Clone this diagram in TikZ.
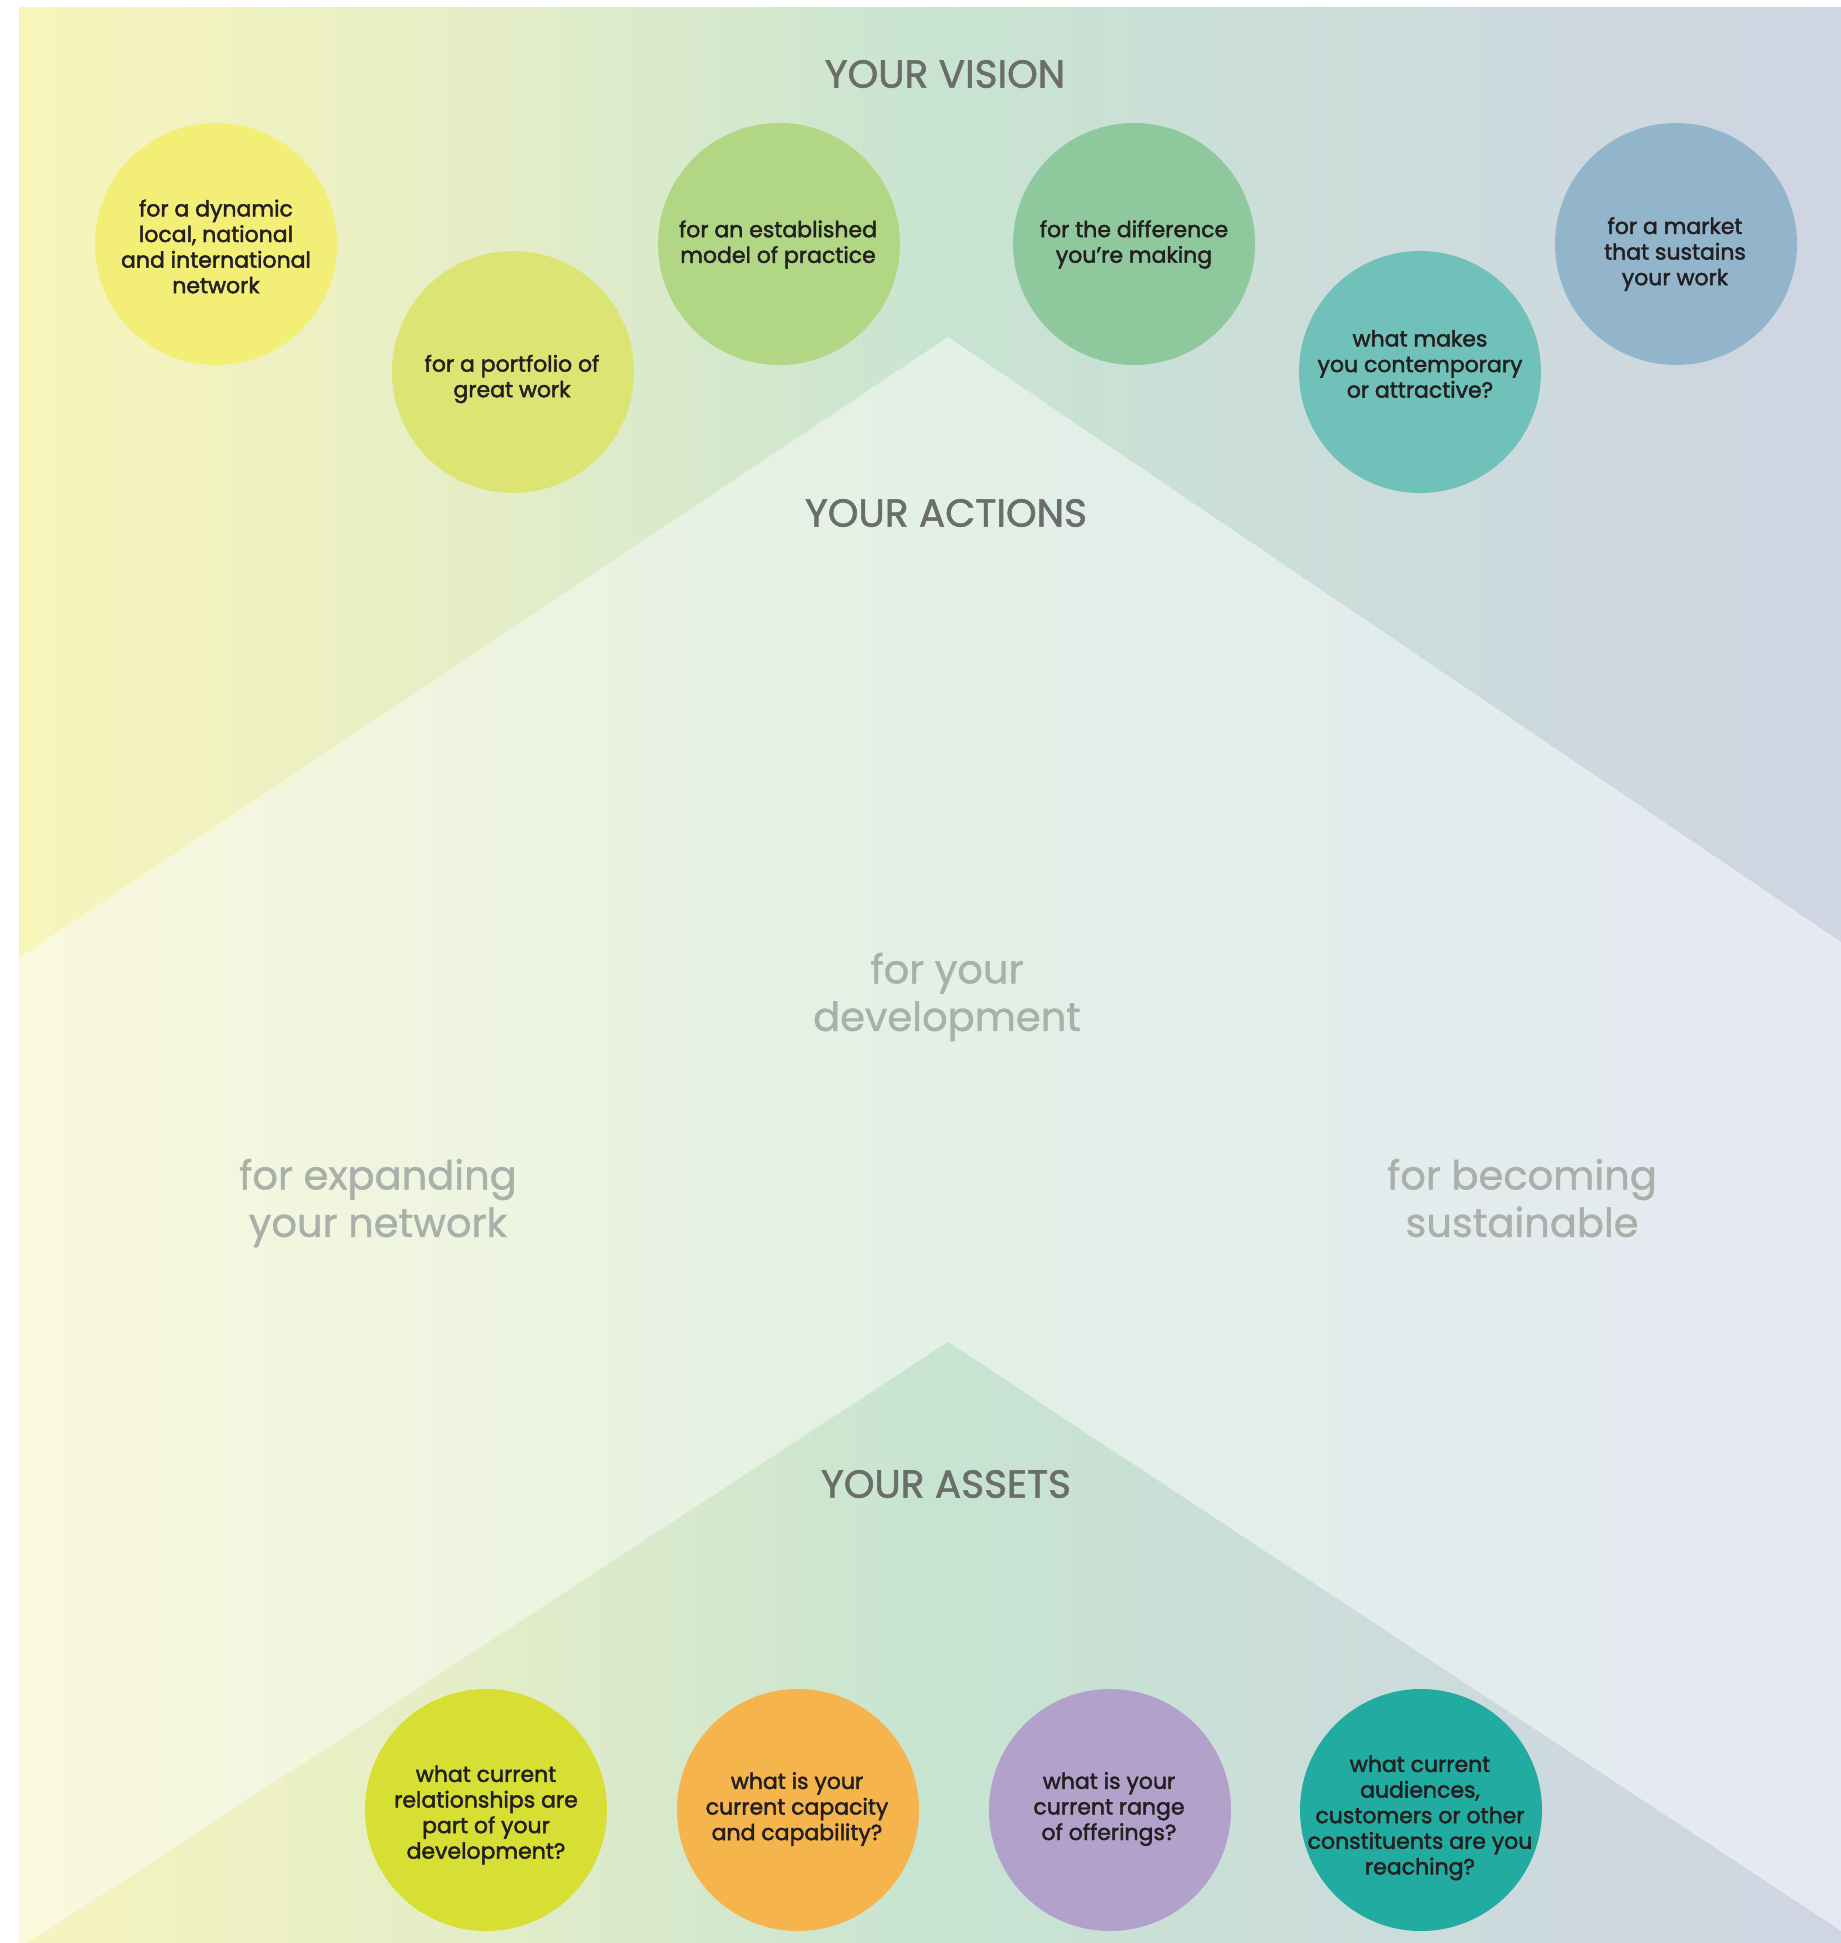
\documentclass[tikz,border=0pt]{standalone}
\usepackage{fontspec}
\newfontfamily\circfont[FakeBold=2]{Poppins}
\newfontfamily\headfont[FakeBold=1.5]{Poppins}
\newfontfamily\greyfont[FakeBold=1]{Poppins}

% band colours
\definecolor{visA}{HTML}{F8F5BA}
\definecolor{visB}{HTML}{E6EEC7}
\definecolor{visC}{HTML}{C8E4D1}
\definecolor{visD}{HTML}{CCDCDB}
\definecolor{visE}{HTML}{CFD5E2}
\definecolor{actA}{HTML}{FAF9DE}
\definecolor{actB}{HTML}{EEF4E0}
\definecolor{actC}{HTML}{E2F0E6}
\definecolor{actD}{HTML}{E3ECEC}
\definecolor{actE}{HTML}{E5E9F1}
\definecolor{astA}{HTML}{F6F4BE}
\definecolor{astB}{HTML}{E4EDC8}
\definecolor{astC}{HTML}{C7E4D1}
\definecolor{astD}{HTML}{CCDCDB}
\definecolor{astE}{HTML}{CFD5E2}

% bubble colours
\definecolor{bubA}{HTML}{F2EE76}
\definecolor{bubB}{HTML}{DCE473}
\definecolor{bubC}{HTML}{B1D785}
\definecolor{bubD}{HTML}{8EC89C}
\definecolor{bubE}{HTML}{6FC1BA}
\definecolor{bubF}{HTML}{92B5CC}
\definecolor{bubG}{HTML}{D7DF34}
\definecolor{bubH}{HTML}{F5B44C}
\definecolor{bubI}{HTML}{B1A1CB}
\definecolor{bubJ}{HTML}{22ABA0}

\definecolor{inkdark}{HTML}{231F20}
\definecolor{inkhead}{HTML}{6B6D6A}
\definecolor{inkgrey}{HTML}{A9AFA9}

\pgfdeclarehorizontalshading{visionband}{100bp}{color(0bp)=(visA); color(25bp)=(visA); color(37.5bp)=(visB); color(50bp)=(visC); color(62.5bp)=(visD); color(75bp)=(visE); color(100bp)=(visE)}
\pgfdeclarehorizontalshading{actionband}{100bp}{color(0bp)=(actA); color(25bp)=(actA); color(37.5bp)=(actB); color(50bp)=(actC); color(62.5bp)=(actD); color(75bp)=(actE); color(100bp)=(actE)}
\pgfdeclarehorizontalshading{assetband}{100bp}{color(0bp)=(astA); color(25bp)=(astA); color(37.5bp)=(astB); color(50bp)=(astC); color(62.5bp)=(astD); color(75bp)=(astE); color(100bp)=(astE)}

\tikzset{
  bubble/.style={circle, inner sep=0pt, minimum size=242pt, draw=none},
  bubbletext/.style={align=center, text=inkdark, inner sep=0pt,
    font=\circfont\fontsize{22}{25.6}\selectfont},
  headline/.style={text=inkhead, inner sep=0pt,
    font=\headfont\fontsize{39}{47}\selectfont},
  theme/.style={align=center, text=inkgrey, inner sep=0pt,
    font=\greyfont\fontsize{40}{47.5}\selectfont},
}

\begin{document}
\begin{tikzpicture}[x=1pt, y=-1pt]
\useasboundingbox (0,0) rectangle (1841,1943);

% background bands
\shade[shading=visionband] (19,8) rectangle (1841,1943);
\shade[shading=actionband] (948,337) -- (1841,942) -- (1841,1943) -- (19,1943) -- (19,958) -- cycle;
\begin{scope}
  \clip (19,8) rectangle (1841,1943);
  \shade[shading=assetband] (948,1342) -- (1841,1931) -- (1841,1960) -- (19,1960) -- (19,1949) -- cycle;
\end{scope}

% headings
\node[headline] (vision)  at (945,74)   {YOUR VISION};
\node[headline] (actions) at (946,513)  {YOUR ACTIONS};
\node[headline] (assets)  at (946,1484) {YOUR ASSETS};

% vision bubbles
\node[bubble, fill=bubA] (v1) at (216,244) {};
\node[bubble, fill=bubB] (v2) at (513,372) {};
\node[bubble, fill=bubC] (v3) at (779,244) {};
\node[bubble, fill=bubD] (v4) at (1134,244) {};
\node[bubble, fill=bubE] (v5) at (1420,372) {};
\node[bubble, fill=bubF] (v6) at (1676,244) {};

\node[bubbletext] (v1t) at (216,246.5) {for a dynamic\\local, national\\and international\\network};
\node[bubbletext] (v2t) at (512,379) {for a portfolio of\\great work};
\node[bubbletext] (v3t) at (778,244.5) {for an established\\model of practice};
\node[bubbletext] (v4t) at (1134,244.5) {for the difference\\you’re making};
\node[bubbletext] (v5t) at (1420,364) {what makes\\you contemporary\\or attractive?};
\node[bubbletext] (v6t) at (1675,254) {for a market\\that sustains\\your work};

% themes of action
\node[theme] (develop) at (947,997) {for your\\development\vphantom{y}};
\node[theme] (network) at (378,1203) {for expanding\\your network\vphantom{y}};
\node[theme] (sustain) at (1522,1203) {for becoming\\sustainable\vphantom{y}};

% asset bubbles
\node[bubble, fill=bubG] (a1) at (486,1810) {};
\node[bubble, fill=bubH] (a2) at (798,1810) {};
\node[bubble, fill=bubI] (a3) at (1110,1810) {};
\node[bubble, fill=bubJ] (a4) at (1421,1810) {};

\node[bubbletext] (a1t) at (486,1815) {what current\\relationships are\\part of your\\development?};
\node[bubbletext] (a2t) at (797,1809) {what is your\\current capacity\\and capability?};
\node[bubbletext] (a3t) at (1109,1809) {what is your\\current range\\of offerings?};
\node[bubbletext] (a4t) at (1420,1818) {what current\\audiences,\\customers or other\\constituents are you\\reaching?};
\end{tikzpicture}
\end{document}
